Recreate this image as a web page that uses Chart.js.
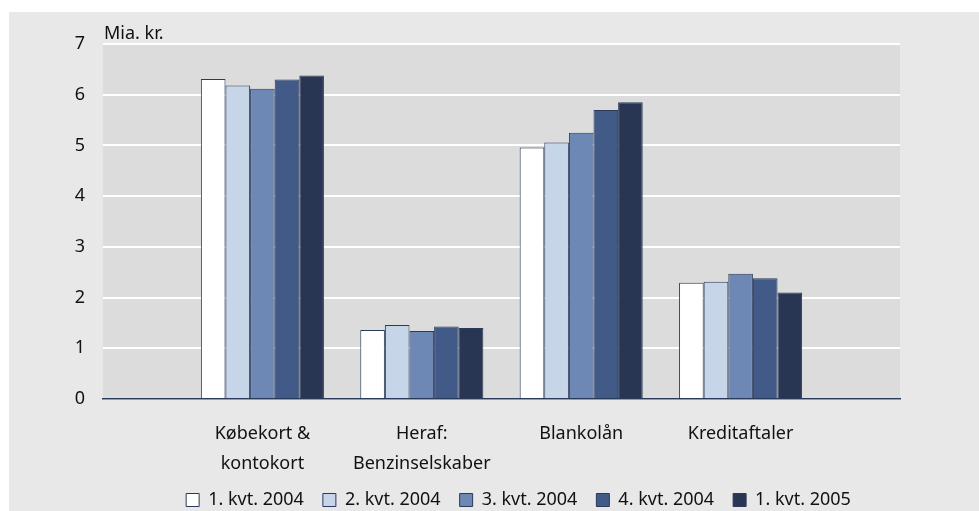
<!DOCTYPE html>
<html>
<head>
<meta charset="utf-8">
<script src="https://cdn.jsdelivr.net/npm/chart.js@4"></script>
<style>
  html, body { margin: 0; padding: 0; background: #ffffff; }
  #wrap { position: absolute; left: 9px; top: 12px; width: 970px; height: 499px; background: #e8e8e8; }
</style>
</head>
<body>
<div id="wrap"><canvas id="chart" width="970" height="499"></canvas></div>
<script>
// categories (empty slots at both ends, as in the original)
const categories = ["", ["Købekort &", "kontokort"], ["Heraf:", "Benzinselskaber"], "Blankolån", "Kreditaftaler", ""];
const seriesNames = ["1. kvt. 2004", "2. kvt. 2004", "3. kvt. 2004", "4. kvt. 2004", "1. kvt. 2005"];
const q1_2004 = [null, 6.31, 1.36, 4.96, 2.29, null];
const q2_2004 = [null, 6.18, 1.46, 5.06, 2.31, null];
const q3_2004 = [null, 6.12, 1.34, 5.25, 2.47, null];
const q4_2004 = [null, 6.30, 1.43, 5.70, 2.38, null];
const q1_2005 = [null, 6.38, 1.40, 5.85, 2.10, null];
const yTicks = [0, 1, 2, 3, 4, 5, 6, 7];
const unitLabel = "Mia. kr.";

const seriesValues = [q1_2004, q2_2004, q3_2004, q4_2004, q1_2005];
const colors = ["#ffffff", "#c6d5e8", "#6d88b5", "#415a87", "#283654"];
const edge = "#2a3a5a";
const fontFam = "'Noto Sans', sans-serif";

// grey plot background + unit label + legend nudge
const extras = {
  id: "extras",
  afterLayout(chart) {
    const lg = chart.legend;
    lg.left += 64; lg.right += 64;
    lg.top -= 7; lg.bottom -= 7;
  },
  beforeDraw(chart) {
    const a = chart.chartArea, c = chart.ctx;
    c.save();
    c.fillStyle = "#dcdcdc";
    c.fillRect(a.left, a.top, a.right - a.left, a.bottom - a.top);
    c.fillStyle = "#111111";
    c.font = "18px " + fontFam;
    c.textBaseline = "alphabetic";
    c.fillText(unitLabel, a.left + 1, a.top - 5);
    c.restore();
  }
};

new Chart(document.getElementById("chart"), {
  type: "bar",
  plugins: [extras],
  data: {
    labels: categories,
    datasets: seriesValues.map((vals, i) => ({
      label: seriesNames[i],
      data: vals,
      backgroundColor: colors[i],
      borderColor: edge,
      borderWidth: 1,
      categoryPercentage: 0.772,
      barPercentage: 1
    }))
  },
  options: {
    responsive: false,
    animation: false,
    layout: { padding: { left: 0, right: 79, top: 32, bottom: -15 } },
    scales: {
      x: {
        offset: false,
        afterFit(s) { s.height = 80; },
        grid: { display: false, drawTicks: false },
        border: { display: true, color: edge, width: 1.5 },
        ticks: { color: "#111111", font: { family: fontFam, size: 18, lineHeight: 1.667 }, padding: 20, maxRotation: 0, autoSkip: false }
      },
      y: {
        min: 0,
        max: 7,
        afterFit(s) { s.width = 94; },
        afterBuildTicks(s) { s.ticks = yTicks.map(v => ({ value: v })); },
        grid: { color: "#ffffff", lineWidth: 2, drawTicks: false },
        border: { display: false },
        ticks: { color: "#111111", font: { family: fontFam, size: 18 }, padding: 18 }
      }
    },
    plugins: {
      tooltip: { enabled: false },
      legend: {
        position: "bottom",
        labels: {
          color: "#111111",
          font: { family: fontFam, size: 18 },
          boxWidth: 13,
          boxHeight: 13,
          padding: 19,
          useBorderRadius: false
        }
      }
    }
  }
});
</script>
</body>
</html>
